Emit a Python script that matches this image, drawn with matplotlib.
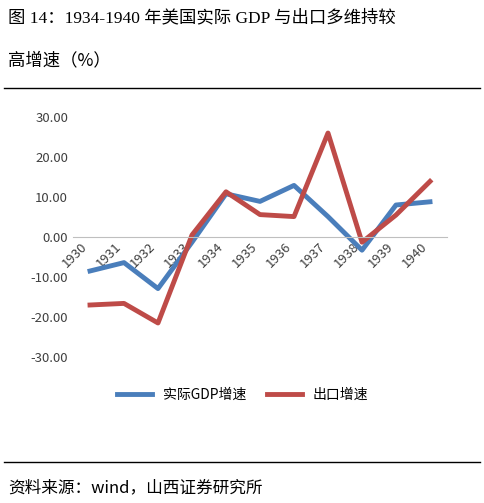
import matplotlib.pyplot as plt

plt.rcParams['font.family'] = ['Noto Sans CJK SC', 'DejaVu Sans']

years = ['1930', '1931', '1932', '1933', '1934', '1935', '1936', '1937', '1938', '1939', '1940']
gdp_growth = [-8.5, -6.4, -12.9, -1.3, 10.8, 8.9, 12.9, 5.1, -3.3, 8.0, 8.8]
export_growth = [-17.0, -16.6, -21.5, 0.5, 11.3, 5.6, 5.1, 26.0, -1.3, 5.5, 13.9]

W, H = 485, 503
fig = plt.figure(figsize=(W / 100, H / 100), dpi=100)

# 标题与分隔线
fig.text(8 / W, 1 - 18 / H, '图 14：1934-1940 年美国实际 GDP 与出口多维持较',
         fontsize=12.5, va='center', family=['Liberation Serif', 'Noto Sans CJK SC'])
fig.text(8 / W, 1 - 60 / H, '高增速（%）', fontsize=12.5, va='center')
fig.add_artist(plt.Line2D([4 / W, 480 / W], [1 - 88 / H, 1 - 88 / H], color='black', lw=1))
fig.add_artist(plt.Line2D([4 / W, 480 / W], [1 - 462 / H, 1 - 462 / H], color='black', lw=1))
fig.text(8 / W, 1 - 488 / H, '资料来源：wind，山西证券研究所', fontsize=12, va='center')

ax = fig.add_axes([73 / W, 1 - 389 / H, 374 / W, 276 / H])
x = range(len(years))
ax.plot(x, gdp_growth, color='#4a7ebb', lw=3.5, label='实际GDP增速')
ax.plot(x, export_growth, color='#be4b48', lw=3.5, label='出口增速')
ax.set_xlim(-0.5, len(years) - 0.5)
ax.set_ylim(-38, 31)
ax.set_yticks([-30, -20, -10, 0, 10, 20, 30])
ax.set_yticklabels([f'{v:.2f}' for v in [-30, -20, -10, 0, 10, 20, 30]], fontsize=9.5, color='#404040')
for s in ['top', 'right', 'left', 'bottom']:
    ax.spines[s].set_visible(False)
ax.spines['bottom'].set_visible(True)
ax.spines['bottom'].set_position(('data', 0))
ax.spines['bottom'].set_color('#bfbfbf')
ax.tick_params(axis='y', length=0)
ax.tick_params(axis='x', length=0, pad=2)
ax.set_xticks(list(x))
ax.set_xticklabels(years, rotation=45, ha='right', va='top', fontsize=9.5, color='#404040')

fig.legend(loc='center', bbox_to_anchor=(0.5, 1 - 395 / H), ncol=2, frameon=False,
           fontsize=10, handlelength=2.5, columnspacing=1.5)

fig.savefig('out.png', dpi=100)
